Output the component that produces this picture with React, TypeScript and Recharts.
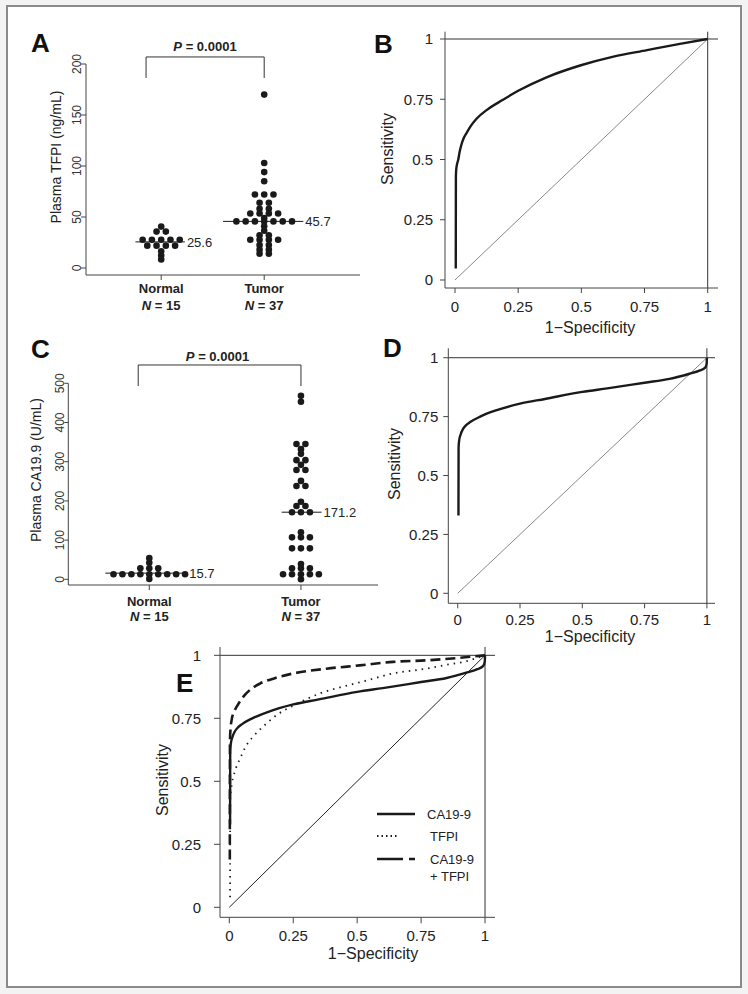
import React from 'react';
import { ScatterChart, Scatter, LineChart, Line, XAxis, YAxis, ReferenceLine, Legend } from 'recharts';

const ARIAL = "'Liberation Sans', Arial, Helvetica, sans-serif";
const NARROW = "'Liberation Sans Narrow', 'Liberation Sans', Arial, sans-serif";
const INK = '#1a1a1a';
const AXIS = '#444';

// groups shared by the two dot plots
const GROUPS = ['Normal', 'Tumor'];
const GROUP_N = [15, 37];
const P_VALUE = '0.0001';

// panel A: plasma TFPI (ng/mL)
const TFPI_NORMAL = [40.6, 35.7, 35.7, 27.7, 27.7, 27.7, 27.7, 27.7, 21.9, 21.9, 21.9, 21.9, 16.4, 12.2, 8.4];
const TFPI_TUMOR = [
  170, 103, 94, 85, 72, 72, 72, 64, 64, 58, 58, 53.5, 53.5, 53.5, 53.5, 49,
  45.7, 45.7, 45.7, 45.7, 45.7, 45.7, 45.7, 41, 36.5, 32, 32,
  27.7, 27.7, 27.7, 27.7, 22.5, 22.5, 18, 18, 14, 14,
];
const TFPI_MEAN = [25.6, 45.7];
const TFPI_TICKS = [0, 50, 100, 150, 200];

// panel C: plasma CA19-9 (U/mL)
const CA_NORMAL = [54, 42, 28, 28, 28, 13, 13, 13, 13, 13, 13, 13, 13, 13, 1];
const CA_TUMOR = [
  468, 453, 345, 345, 332, 320, 304, 304, 292, 279, 279, 251, 238, 238,
  198, 187, 187, 171, 171, 171, 120, 107, 107, 107, 79, 79, 79, 39,
  28, 28, 28, 13, 13, 13, 13, 13, 0,
];
const CA_MEAN = [15.7, 171.2];
const CA_TICKS = [0, 100, 200, 300, 400, 500];

// ROC curves (1-specificity, sensitivity)
const ROC_TICKS = [0, 0.25, 0.5, 0.75, 1];
const TFPI_FPR = [0.003, 0.0035, 0.005, 0.008, 0.013, 0.018, 0.025, 0.035, 0.046, 0.06, 0.086, 0.125, 0.19, 0.25, 0.36, 0.495, 0.627, 0.76, 0.89, 1];
const TFPI_TPR = [0.048, 0.43, 0.46, 0.48, 0.5, 0.53, 0.56, 0.59, 0.61, 0.635, 0.67, 0.705, 0.748, 0.785, 0.84, 0.89, 0.927, 0.954, 0.98, 1];
const CA_FPR = [0.003, 0.0035, 0.006, 0.012, 0.02, 0.035, 0.05, 0.09, 0.15, 0.25, 0.35, 0.5, 0.6, 0.75, 0.85, 0.93, 0.97, 0.993, 0.999, 1];
const CA_TPR = [0.33, 0.62, 0.65, 0.675, 0.695, 0.715, 0.727, 0.75, 0.775, 0.805, 0.825, 0.855, 0.87, 0.894, 0.91, 0.932, 0.945, 0.958, 0.975, 1];
const TFPI_E_FPR = [0.003, 0.0035, 0.01, 0.022, 0.042, 0.068, 0.094, 0.146, 0.185, 0.25, 0.355, 0.46, 0.537, 0.64, 0.77, 0.837, 0.92, 1];
const TFPI_E_TPR = [0.04, 0.43, 0.49, 0.54, 0.59, 0.645, 0.678, 0.73, 0.763, 0.8, 0.849, 0.88, 0.9, 0.928, 0.947, 0.96, 0.975, 1];
const COMBO_FPR = [0.002, 0.0025, 0.005, 0.009, 0.018, 0.029, 0.042, 0.055, 0.08, 0.12, 0.18, 0.25, 0.38, 0.51, 0.64, 0.77, 0.9, 1];
const COMBO_TPR = [0.19, 0.66, 0.71, 0.743, 0.775, 0.796, 0.818, 0.836, 0.862, 0.888, 0.91, 0.928, 0.947, 0.96, 0.974, 0.98, 0.99, 1];
const DIAG = [0, 1];

const zip = (xs: number[], ys: number[]) => xs.map((x, i) => ({ x, y: ys[i] }));

// simple beeswarm: equal values are spread sideways around the group centre
function swarm(values: number[], center: number, step: number) {
  const counts = new Map<number, number>();
  values.forEach(v => counts.set(v, (counts.get(v) ?? 0) + 1));
  const pts: { x: number; y: number }[] = [];
  counts.forEach((n, v) => {
    for (let i = 0; i < n; i++) pts.push({ x: center + (i - (n - 1) / 2) * step, y: v });
  });
  return pts;
}

const Dot = (p: any) => <circle cx={p.cx} cy={p.cy} r={3.3} fill={INK} />;

const RotTick = (p: any) => (
  <text x={p.x} y={p.y} transform={`rotate(-90 ${p.x} ${p.y})`} textAnchor="middle"
    fontSize={12} fontFamily={NARROW} fill="#333">{p.payload.value}</text>
);

const groupTick = (d1: number, d2: number) => (p: any) => {
  const i = Math.round(p.payload.value) - 1;
  return (
    <g fontFamily={ARIAL} fontSize={13} fill="#222">
      <text x={p.x} y={p.y + d1} textAnchor="middle" fontWeight="bold">{GROUPS[i]}</text>
      <text x={p.x} y={p.y + d2} textAnchor="middle" fontWeight="bold">
        <tspan fontStyle="italic">N</tspan> = {GROUP_N[i]}
      </text>
    </g>
  );
};

const meanLabel = (v: number) => ({ value: String(v), position: 'right' as const, offset: 2, fontSize: 13, fontFamily: ARIAL, fill: '#222' });

function bracket(x0: number, x1: number, yTop: number, yBot: number) {
  const s = { stroke: '#333', strokeWidth: 1, ifOverflow: 'visible' as const };
  return [
    <ReferenceLine key="bl" segment={[{ x: x0, y: yBot }, { x: x0, y: yTop }]} {...s} />,
    <ReferenceLine key="bt" segment={[{ x: x0, y: yTop }, { x: x1, y: yTop }]} {...s} />,
    <ReferenceLine key="br" segment={[{ x: x1, y: yTop }, { x: x1, y: yBot }]} {...s} />,
  ];
}

function rocAxes(yWidth: number, tickSize: number, xMargin: number, yMargin: number, xDomain: number[], yDomain: number[]) {
  const tick = { fill: '#222', fontSize: 15, fontFamily: ARIAL };
  return [
    <XAxis key="x" type="number" dataKey="x" domain={xDomain} allowDataOverflow ticks={ROC_TICKS}
      height={30} tick={tick} tickSize={tickSize} tickMargin={xMargin} stroke={AXIS} />,
    <YAxis key="y" type="number" dataKey="y" domain={yDomain} allowDataOverflow ticks={ROC_TICKS}
      width={yWidth} tick={tick} tickSize={tickSize} tickMargin={yMargin} stroke={AXIS} />,
    <ReferenceLine key="h1" y={1} stroke="#333" strokeWidth={1} />,
    <ReferenceLine key="v1" x={1} stroke="#333" strokeWidth={1} />,
  ];
}

const EcLegend = () => (
  <svg width={140} height={90} style={{ display: 'block' }}>
    <g fontFamily={ARIAL} fontSize={13} fill="#222">
      <line x1={1} x2={39} y1={14} y2={14} stroke={INK} strokeWidth={2.6} />
      <text x={51} y={18.5}>CA19-9</text>
      <line x1={1} x2={21} y1={36} y2={36} stroke={INK} strokeWidth={1.8} strokeDasharray="1.5 3" />
      <text x={54} y={40.5}>TFPI</text>
      <line x1={1} x2={39} y1={59} y2={59} stroke={INK} strokeWidth={2.6} strokeDasharray="26 6" />
      <text x={54} y={63.5}>CA19-9</text>
      <text x={54} y={80.5}>+ TFPI</text>
    </g>
  </svg>
);

const abs = (left: number, top: number): React.CSSProperties => ({ position: 'absolute', left, top });

export default function App() {
  const diag = zip(DIAG, DIAG);
  return (
    <div style={{ position: 'absolute', left: 0, top: 0, width: 748, height: 994, background: '#f3f3f3', fontFamily: ARIAL }}>
      <div style={{ position: 'absolute', left: 6, top: 5, width: 736, height: 983, boxSizing: 'border-box', border: '2px solid #8a8a8a', background: '#fff' }} />

      {/* A: TFPI dot plot */}
      <div style={abs(20, 20)}>
        <ScatterChart width={360} height={300} margin={{ top: 44, right: 20, bottom: 5, left: 0 }}>
          <XAxis type="number" dataKey="x" domain={[0.27, 2.93]} allowDataOverflow ticks={[1, 2]}
            height={40} tick={groupTick(10.5, 28)} tickSize={5} tickMargin={2} stroke={AXIS} />
          <YAxis type="number" dataKey="y" domain={[-6.86, 200]} allowDataOverflow ticks={TFPI_TICKS}
            width={66} tick={RotTick} tickSize={5} tickMargin={0} stroke={AXIS} />
          <Scatter data={swarm(TFPI_NORMAL, 1, 0.09)} shape={Dot} isAnimationActive={false} />
          <Scatter data={swarm(TFPI_TUMOR, 2, 0.09)} shape={Dot} isAnimationActive={false} />
          <ReferenceLine segment={[{ x: 0.75, y: TFPI_MEAN[0] }, { x: 1.23, y: TFPI_MEAN[0] }]} stroke={INK} label={meanLabel(TFPI_MEAN[0])} />
          <ReferenceLine segment={[{ x: 1.6, y: TFPI_MEAN[1] }, { x: 2.38, y: TFPI_MEAN[1] }]} stroke={INK} label={meanLabel(TFPI_MEAN[1])} />
          {bracket(0.853, 2, 206.9, 186.3)}
        </ScatterChart>
      </div>

      {/* B: ROC TFPI */}
      <div style={abs(380, 20)}>
        <LineChart width={360} height={320} margin={{ top: 11.7, right: 22, bottom: 22, left: 0 }}>
          {rocAxes(65, 5, 8, 7, [-0.0396, 1.0408], [-0.0332, 1.0303])}
          <Line data={diag} dataKey="y" type="linear" dot={false} stroke="#888" strokeWidth={1} isAnimationActive={false} />
          <Line data={zip(TFPI_FPR, TFPI_TPR)} dataKey="y" type="monotoneX" dot={false} stroke={INK} strokeWidth={2.4} isAnimationActive={false} />
        </LineChart>
      </div>

      {/* C: CA19-9 dot plot */}
      <div style={abs(20, 330)}>
        <ScatterChart width={370} height={300} margin={{ top: 53.3, right: 12, bottom: 5, left: 0 }}>
          <XAxis type="number" dataKey="x" domain={[0.466, 2.508]} allowDataOverflow ticks={[1, 2]}
            height={40} tick={groupTick(14, 29)} tickSize={5} tickMargin={2} stroke={AXIS} />
          <YAxis type="number" dataKey="y" domain={[-14.5, 500]} allowDataOverflow ticks={CA_TICKS}
            width={48.3} tick={RotTick} tickSize={4} tickMargin={0} stroke={AXIS} />
          <Scatter data={swarm(CA_NORMAL, 1, 0.059)} shape={Dot} isAnimationActive={false} />
          <Scatter data={swarm(CA_TUMOR, 2, 0.059)} shape={Dot} isAnimationActive={false} />
          <ReferenceLine segment={[{ x: 0.71, y: CA_MEAN[0] }, { x: 1.25, y: CA_MEAN[0] }]} stroke={INK} label={meanLabel(CA_MEAN[0])} />
          <ReferenceLine segment={[{ x: 1.873, y: CA_MEAN[1] }, { x: 2.136, y: CA_MEAN[1] }]} stroke={INK} label={meanLabel(CA_MEAN[1])} />
          {bracket(0.927, 2, 546.7, 493)}
        </ScatterChart>
      </div>

      {/* D: ROC CA19-9 */}
      <div style={abs(380, 330)}>
        <LineChart width={360} height={320} margin={{ top: 18.3, right: 25, bottom: 16.7, left: 0 }}>
          {rocAxes(68.3, 5, 6.5, 5, [-0.0378, 1.0325], [-0.0424, 1.04])}
          <Line data={diag} dataKey="y" type="linear" dot={false} stroke="#888" strokeWidth={1} isAnimationActive={false} />
          <Line data={zip(CA_FPR, CA_TPR)} dataKey="y" type="monotoneX" dot={false} stroke={INK} strokeWidth={2.4} isAnimationActive={false} />
        </LineChart>
      </div>

      {/* E: combined ROC */}
      <div style={abs(150, 640)}>
        <LineChart width={360} height={340} margin={{ top: 7, right: 15, bottom: 32.7, left: 0 }}>
          {rocAxes(70, 6, 7, 13, [-0.0364, 1.039], [-0.0397, 1.033])}
          <Line data={diag} dataKey="y" type="linear" dot={false} stroke="#222" strokeWidth={1} isAnimationActive={false} />
          <Line data={zip(TFPI_E_FPR, TFPI_E_TPR)} dataKey="y" type="monotoneX" dot={false} stroke={INK} strokeWidth={1.8} strokeDasharray="1.5 5" isAnimationActive={false} />
          <Line data={zip(COMBO_FPR, COMBO_TPR)} dataKey="y" type="monotoneX" dot={false} stroke={INK} strokeWidth={2.6} strokeDasharray="10 5" isAnimationActive={false} />
          <Line data={zip(CA_FPR, CA_TPR)} dataKey="y" type="monotoneX" dot={false} stroke={INK} strokeWidth={2.4} isAnimationActive={false} />
          <Legend content={EcLegend} layout="horizontal" verticalAlign="middle" align="center"
            wrapperStyle={{ left: 226, top: 160, width: 140, height: 90 }} />
        </LineChart>
      </div>

      <svg width={748} height={994} style={{ position: 'absolute', left: 0, top: 0, pointerEvents: 'none' }}>
        <g fontFamily={ARIAL} fontWeight="bold" fontSize={26} fill="#111">
          <text x={31} y={52}>A</text>
          <text x={374} y={53}>B</text>
          <text x={31} y={358}>C</text>
          <text x={383} y={357}>D</text>
          <text x={176} y={692}>E</text>
        </g>
        <g fontFamily={ARIAL} fontSize={13} fontWeight="bold" fill="#222" textAnchor="middle">
          <text x={205} y={50.5}><tspan fontStyle="italic">P</tspan> = {P_VALUE}</text>
          <text x={217.5} y={360.5}><tspan fontStyle="italic">P</tspan> = {P_VALUE}</text>
        </g>
        <g fontFamily={ARIAL} fontSize={14} fill="#222" textAnchor="middle">
          <text transform="translate(56,157) rotate(-90)" dy="0.35em">Plasma TFPI (ng/mL)</text>
          <text transform="translate(36,470) rotate(-90)" dy="0.35em">Plasma CA19.9 (U/mL)</text>
        </g>
        <g fontFamily={ARIAL} fontSize={16} fill="#222" textAnchor="middle">
          <text transform="translate(387,149) rotate(-90)" dy="0.35em">Sensitivity</text>
          <text x={590} y={327} dy="0.35em">1−Specificity</text>
          <text transform="translate(394,464) rotate(-90)" dy="0.35em">Sensitivity</text>
          <text x={590} y={636} dy="0.35em">1−Specificity</text>
          <text transform="translate(162,780) rotate(-90)" dy="0.35em">Sensitivity</text>
          <text x={373} y={953} dy="0.35em">1−Specificity</text>
        </g>
      </svg>
    </div>
  );
}
